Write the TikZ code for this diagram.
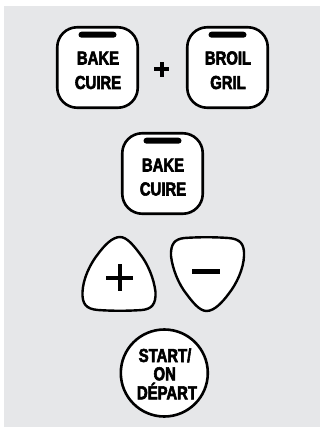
\documentclass[tikz,border=0pt]{standalone}
\usepackage{fontspec}
\newfontfamily\btnfont[FakeStretch=0.79, FakeBold=3]{Liberation Sans Bold}
\definecolor{bg}{RGB}{230,231,233}
\tikzset{
  keybox/.style={draw=black, fill=white, line width=2.6pt, rounded corners=20pt,
    minimum width=80.5pt, minimum height=80.5pt, inner sep=0pt},
  roundkey/.style={draw=black, fill=white, line width=2.6pt, circle,
    minimum size=87pt, inner sep=0pt},
  lamp/.style={fill=black, rounded corners=3pt, minimum width=38pt,
    minimum height=6pt, inner sep=0pt},
  lbl/.style={font=\btnfont\fontsize{18.8}{20}\selectfont, anchor=base, inner sep=0pt},
  keyshape/.style={draw=black, fill=white, line width=2.4pt, line join=round},
  sign/.style={fill=black}
}
\begin{document}
\begin{tikzpicture}[x=1pt,y=-1pt]
  \useasboundingbox (0,0) rectangle (320,427);
  \fill[bg] (4,6) rectangle (320,427);

  % top row
  \node[keybox] (bake1) at (97.5,67.5) {};
  \node[lamp] (lamp1) at (97.5,34.7) {};
  \node[lbl] (bake1a) at (98,64.5) {BAKE};
  \node[lbl] (bake1b) at (98,89) {CUIRE};

  \fill[sign] (154,67.5) rectangle (169.3,71.5);
  \fill[sign] (159.7,62) rectangle (163.7,77);

  \node[keybox] (broil) at (227.5,67.5) {};
  \node[lamp] (lamp2) at (227.5,34.7) {};
  \node[lbl] (broila) at (228,64.5) {BROIL};
  \node[lbl] (broilb) at (228,89) {GRIL};

  % middle
  \node[keybox] (bake2) at (162.5,173.5) {};
  \node[lamp] (lamp3) at (162.5,140.7) {};
  \node[lbl] (bake2a) at (163,171.5) {BAKE};
  \node[lbl] (bake2b) at (163,195.5) {CUIRE};

  % plus key
  \draw[keyshape, shift={(120,274)}]
    (0,-37) .. controls (-8,-37) and (-16,-28) .. (-22,-20)
    .. controls (-30,-10) and (-37,5) .. (-37.5,18)
    .. controls (-38,30) and (-34,35) .. (-22,36)
    .. controls (-8,37) and (8,37) .. (22,36)
    .. controls (32,35) and (36,30) .. (35.5,18)
    .. controls (34,5) and (28,-10) .. (20,-20)
    .. controls (14,-28) and (7,-37) .. (0,-37) -- cycle;
  \fill[sign] (106.2,275.7) rectangle (133.2,279.7);
  \fill[sign] (117.7,264.2) rectangle (121.7,291.2);

  % minus key
  \draw[keyshape, shift={(206.5,274)}, rotate=180]
    (0,-37) .. controls (-8,-37) and (-16,-28) .. (-22,-20)
    .. controls (-30,-10) and (-37,5) .. (-37.5,18)
    .. controls (-38,30) and (-34,35) .. (-22,36)
    .. controls (-8,37) and (8,37) .. (22,36)
    .. controls (32,35) and (36,30) .. (35.5,18)
    .. controls (34,5) and (28,-10) .. (20,-20)
    .. controls (14,-28) and (7,-37) .. (0,-37) -- cycle;
  \fill[sign] (192,269) rectangle (220,274);

  % start key
  \node[roundkey] (start) at (164.3,373) {};
  \node[lbl] (starta) at (165,362) {START/};
  \node[lbl] (startb) at (164.7,380.3) {ON};
  \node[lbl] (startc) at (167,399.3) {DÉPART};
\end{tikzpicture}
\end{document}
